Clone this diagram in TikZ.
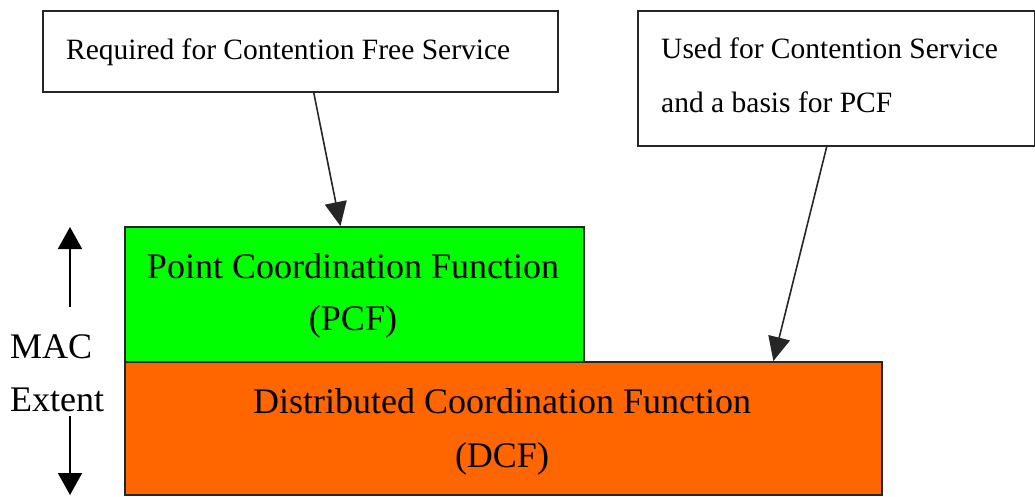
\documentclass[tikz,border=0pt]{standalone}
\usepackage{fontspec}
\setmainfont{Liberation Serif}
\usetikzlibrary{arrows.meta,calc}
\definecolor{pcfgreen}{HTML}{00FF00}
\definecolor{dcforange}{HTML}{FF6600}
\definecolor{edgecol}{HTML}{262626}
\begin{document}
\begin{tikzpicture}[x=1pt,y=-1pt,
  box/.style={draw=edgecol, line width=1.6pt, rectangle, inner sep=0pt, anchor=north west},
  big/.style={font=\fontsize{36}{43}\selectfont, inner sep=0pt, anchor=base, text=black},
  side/.style={font=\fontsize{36}{43}\selectfont, inner sep=0pt, anchor=base west},
  small/.style={font=\fontsize{29.5}{35}\selectfont, inner sep=0pt, anchor=base west},
  conn/.style={draw=edgecol, line width=1.6pt, -{Triangle[length=24pt,width=22pt]}},
  extent/.style={draw=black, line width=1.6pt, -{Triangle[length=22pt,width=24pt]}}]
\useasboundingbox (0,0) rectangle (1035,496);
\fill[white] (0,0) rectangle (1035,496);

% boxes
\node[box, minimum width=515pt, minimum height=81pt] (req) at (42,10) {};
\node[box, minimum width=397pt, minimum height=135pt] (used) at (637,10) {};
\node[box, fill=pcfgreen, minimum width=459pt, minimum height=135pt] (pcf) at (124,226) {};
\node[box, fill=dcforange, minimum width=757pt, minimum height=133pt] (dcf) at (124,361) {};

% texts
\node[small] (reqtext) at (66,59) {Required for Contention Free Service};
\node[small] (usedtext1) at (661,58) {Used for Contention Service};
\node[small] (usedtext2) at (661,112) {and a basis for PCF};
\node[big] (pcftext1) at (353,278) {Point Coordination Function};
\node[big] (pcftext2) at (353,330) {(PCF)};
\node[big] (dcftext1) at (502,413) {Distributed Coordination Function};
\node[big] (dcftext2) at (502,467) {(DCF)};
\node[side] (mac) at (10,358) {MAC};
\node[side] (ext) at (10,411) {Extent};

% connectors
\draw[conn] ($(req.south west)!0.526!(req.south east)$) -- ($(pcf.north west)!0.47!(pcf.north east)$);
\draw[conn] ($(used.south west)!0.476!(used.south east)$) -- ($(dcf.north west)!0.856!(dcf.north east)$);

% MAC extent arrows
\coordinate (upstart) at (70,307);
\coordinate (upend) at (70,227);
\coordinate (downstart) at (70,416);
\coordinate (downend) at (70,495);
\draw[extent] (upstart) -- (upend);
\draw[extent] (downstart) -- (downend);
\end{tikzpicture}
\end{document}
